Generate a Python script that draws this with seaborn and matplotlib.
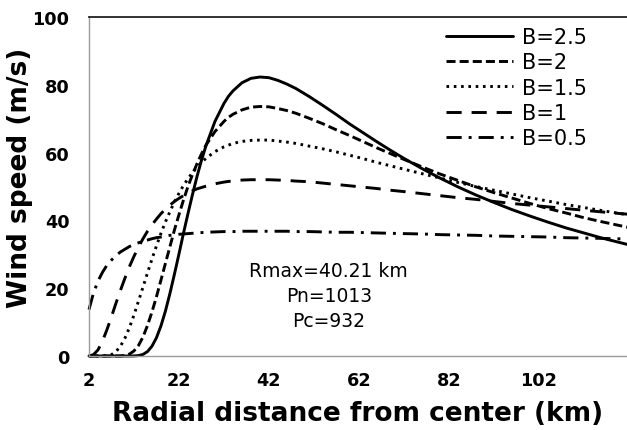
import matplotlib
matplotlib.use("Agg")
import matplotlib.pyplot as plt
from matplotlib.lines import Line2D
import pandas as pd
import seaborn as sns

# Radial distance from the storm centre (km)
radius_km = [2, 3, 4, 5, 6, 7, 8, 9, 10, 11, 12, 13, 14, 15, 16, 17, 18, 19, 20,
             21, 22, 23, 24, 25, 26, 27, 28, 30, 32, 33, 34, 36, 38, 40, 42, 44,
             46, 48, 51, 54, 57, 60, 63, 66, 69, 72, 76, 80, 84, 88, 92, 96, 100,
             104, 108, 112, 116, 122]

# Wind speed (m/s) for each Holland B parameter
speed_b25 = [0, 0, 0, 0, 0, 0, 0, 0, 0, 0, 0.02, 0.12, 0.47, 1.3, 2.9, 5.4, 8.9,
             13.3, 18.5, 24.2, 30.1, 36.2, 42.0, 47.6, 52.9, 57.7, 62.0, 69.2,
             74.5, 76.6, 78.2, 80.6, 81.9, 82.3, 82.1, 81.3, 80.2, 78.9, 76.5,
             73.9, 71.2, 68.4, 65.8, 63.2, 60.7, 58.3, 55.3, 52.5, 49.9, 47.5,
             45.3, 43.2, 41.3, 39.5, 37.8, 36.3, 34.8, 32.8]
speed_b20 = [0, 0, 0, 0, 0, 0, 0, 0.03, 0.15, 0.56, 1.5, 3.1, 5.6, 9.0, 13.0,
             17.5, 22.4, 27.4, 32.3, 37.2, 41.7, 46.0, 50.0, 53.5, 56.7, 59.6,
             62.2, 66.2, 69.2, 70.4, 71.3, 72.6, 73.4, 73.6, 73.5, 73.0, 72.4,
             71.6, 70.1, 68.5, 66.7, 65.0, 63.2, 61.4, 59.7, 58.0, 55.8, 53.7,
             51.8, 49.9, 48.2, 46.6, 45.0, 43.5, 42.2, 40.8, 39.6, 37.9]
speed_b15 = [0, 0, 0, 0.01, 0.08, 0.4, 1.3, 2.9, 5.3, 8.4, 12.1, 16.2, 20.3,
             24.5, 28.6, 32.5, 36.2, 39.6, 42.6, 45.5, 48.0, 50.3, 52.3, 54.1,
             55.7, 57.1, 58.3, 60.3, 61.7, 62.2, 62.7, 63.3, 63.6, 63.7, 63.7,
             63.4, 63.1, 62.7, 61.9, 61.1, 60.2, 59.2, 58.2, 57.1, 56.1, 55.1,
             53.8, 52.5, 51.2, 50.0, 48.9, 47.8, 46.7, 45.7, 44.7, 43.8, 42.9,
             41.6]
speed_b10 = [0.02, 0.4, 1.8, 4.4, 7.8, 11.6, 15.6, 19.4, 23.0, 26.4, 29.4, 32.1,
             34.6, 36.8, 38.7, 40.4, 42.0, 43.3, 44.5, 45.6, 46.5, 47.3, 48.1,
             48.7, 49.3, 49.7, 50.1, 50.8, 51.3, 51.5, 51.6, 51.9, 52.0, 52.0,
             52.0, 51.9, 51.8, 51.6, 51.4, 51.0, 50.6, 50.2, 49.8, 49.4, 48.9,
             48.5, 47.9, 47.3, 46.7, 46.2, 45.6, 45.0, 44.5, 44.0, 43.5, 43.0,
             42.5, 41.8]
speed_b05 = [13.7, 18.6, 22.1, 24.7, 26.8, 28.3, 29.6, 30.7, 31.5, 32.3, 32.9,
             33.4, 33.9, 34.2, 34.6, 34.9, 35.1, 35.4, 35.6, 35.7, 35.9, 36.0,
             36.1, 36.2, 36.3, 36.4, 36.5, 36.6, 36.7, 36.7, 36.7, 36.8, 36.8,
             36.8, 36.8, 36.8, 36.8, 36.7, 36.7, 36.6, 36.5, 36.5, 36.4, 36.3,
             36.2, 36.1, 36.0, 35.8, 35.7, 35.6, 35.4, 35.3, 35.2, 35.1, 34.9,
             34.8, 34.7, 34.5]

b_labels = ["B=2.5", "B=2", "B=1.5", "B=1", "B=0.5"]
series = [speed_b25, speed_b20, speed_b15, speed_b10, speed_b05]

x_ticks = [2, 22, 42, 62, 82, 102]
y_ticks = [0, 20, 40, 60, 80, 100]

frames = [pd.DataFrame({"r": radius_km, "v": vals, "B": lab})
          for lab, vals in zip(b_labels, series)]
df = pd.concat(frames, ignore_index=True)

sns.set_style("white")
plt.rcParams["font.family"] = ["DejaVu Sans"]
plt.rcParams["text.color"] = "black"
plt.rcParams["axes.labelcolor"] = "black"
plt.rcParams["xtick.labelcolor"] = "black"
plt.rcParams["ytick.labelcolor"] = "black"

line_styles = {
    "B=2.5": "",
    "B=2": (3.1, 1.4),
    "B=1.5": (0.9, 1.6),
    "B=1": (5.2, 3.4),
    "B=0.5": (5.2, 2.4, 1.0, 2.4),
}
lw = 2.1

fig = plt.figure(figsize=(6.27, 4.31), dpi=100)
ax = fig.add_axes([89 / 627, 1 - 357 / 431, 1 - 89 / 627, (357 - 18) / 431])

sns.lineplot(data=df, x="r", y="v", hue="B", style="B", hue_order=b_labels,
             style_order=b_labels, palette=["black"] * 5, dashes=line_styles,
             linewidth=lw, legend=False, ax=ax, clip_on=False)

ax.set_xlim(2, 121.6)
ax.set_ylim(0, 100)
ax.set_xticks(x_ticks)
ax.set_yticks(y_ticks)
ax.tick_params(axis="both", which="major", direction="out", length=5,
               width=1, color="#9a9a9a", labelsize=12.7)
ax.tick_params(axis="x", pad=6)
ax.tick_params(axis="y", pad=9)
for lab in ax.get_xticklabels() + ax.get_yticklabels():
    lab.set_fontweight("bold")

for side in ("left", "bottom"):
    ax.spines[side].set_color("#9a9a9a")
    ax.spines[side].set_linewidth(1.0)
ax.spines["top"].set_color("#222222")
ax.spines["top"].set_linewidth(1.3)
ax.spines["right"].set_visible(False)

ax.set_xlabel("Radial distance from center (km)", fontsize=19,
              fontweight="bold", labelpad=8)
ax.set_ylabel("Wind speed (m/s)", fontsize=19, fontweight="bold")
ax.yaxis.set_label_coords(-0.104, 0.528)

ax.text(55.3, 17.7, "Rmax=40.21 km\nPn=1013\nPc=932", ha="center",
        va="center", fontsize=13.5, multialignment="center", linespacing=1.4)

handles = []
for lab in b_labels:
    h = Line2D([0], [0], color="black", linewidth=lw)
    if line_styles[lab]:
        h.set_dashes(line_styles[lab])
    handles.append(h)
ax.legend(handles, b_labels, loc="upper left",
          bbox_to_anchor=((446 - 89) / 538, (357 - 28) / 339),
          frameon=False, borderpad=0, borderaxespad=0, handlelength=3.2,
          handletextpad=0.45, labelspacing=0.255, prop={"size": 15})

fig.savefig("out.png", dpi=100)
